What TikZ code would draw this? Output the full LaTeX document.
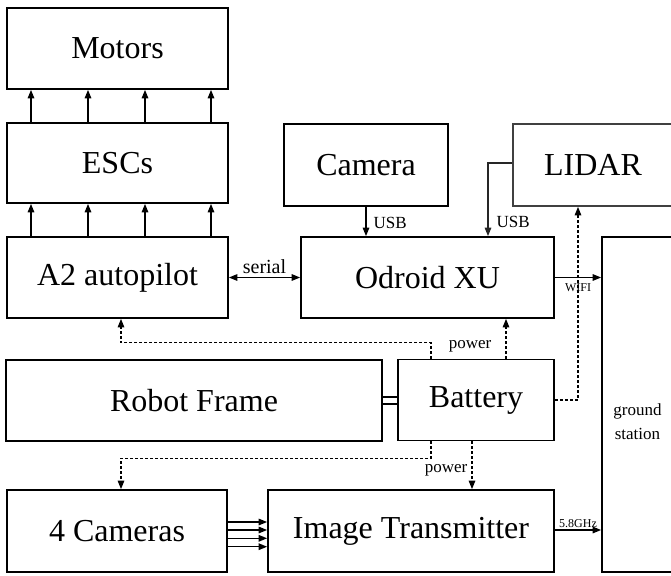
\documentclass[tikz,border=0pt]{standalone}
\usepackage{fontspec}
\setmainfont{Liberation Serif}
\usetikzlibrary{arrows.meta,calc}
\begin{document}
\begin{tikzpicture}[x=1pt,y=-1pt,
  box/.style={draw, line width=1.7pt, inner sep=0pt, font=\fontsize{32}{38}\selectfont},
  arr/.style={line width=1.4pt, -{Triangle[length=8.5pt,width=6.5pt]}},
  darr/.style={line width=1.4pt, {Triangle[length=8.5pt,width=6.5pt]}-{Triangle[length=8.5pt,width=6.5pt]}},
  pw/.style={line width=1.3pt, dash pattern=on 3pt off 2pt, -{Triangle[length=8.5pt,width=6.5pt]}},
  lbl/.style={font=\fontsize{17}{20}\selectfont, inner sep=1pt},
  serl/.style={font=\fontsize{20}{24}\selectfont, inner sep=1pt},
  slbl/.style={font=\fontsize{12}{14}\selectfont, inner sep=1pt}]
\useasboundingbox (0,0) rectangle (671,575);
\clip (0,0) rectangle (671,575);

% nodes
\node[box, minimum width=221pt, minimum height=81pt] (motors) at (117.5,48.5) {Motors};
\node[box, minimum width=221pt, minimum height=80pt] (esc) at (117.5,163) {ESCs};
\node[box, minimum width=221pt, minimum height=81pt] (a2) at (117.5,277.5) {A2 autopilot};
\node[box, minimum width=164pt, minimum height=82pt] (camera) at (366,165) {Camera};
\node[box, draw=black!75, minimum width=160pt, minimum height=82pt] (lidar) at (593,165) {LIDAR};
\node[box, minimum width=253pt, minimum height=81pt] (odroid) at (427.5,277.5) {Odroid XU};
\node[box, minimum width=71pt, minimum height=335pt] (ground) at (637.5,404.5) {};
\node[align=center, inner sep=0pt, font=\fontsize{17}{24}\selectfont] (groundtext) at (637.5,422) {ground\\station};
\node[box, minimum width=376pt, minimum height=81pt] (robot) at (194,400.5) {Robot Frame};
\node[box, minimum width=156pt, minimum height=81pt] (battery) at (476,400) {Battery};
\node[box, minimum width=220pt, minimum height=82pt] (cams) at (117,531) {4 Cameras};
\node[box, minimum width=286pt, minimum height=82pt] (imgtx) at (411,531) {Image Transmitter};

% A2 -> ESCs -> Motors
\foreach \dx in {-86.5,-29.5,27.5,93.5}{
  \draw[arr] ([xshift=\dx pt]a2.north) -- ([xshift=\dx pt]esc.south);
  \draw[arr] ([xshift=\dx pt]esc.north) -- ([xshift=\dx pt]motors.south);
}

% USB links
\draw[arr] (camera.south) -- (camera.south |- odroid.north)
  node[pos=0.55, right=6pt, lbl] {USB};
\draw[arr, draw=black!85] ([yshift=2pt]lidar.west) -| ([xshift=60.5pt]odroid.north)
  node[pos=0.9, right=7pt, lbl] {USB};

% serial
\draw[darr] (a2.east) -- (odroid.west) node[midway, above=2pt, serl] {serial};

% WIFI
\draw[arr] (odroid.east) -- (odroid.east -| ground.west)
  node[midway, below=4pt, slbl] {WIFI};

% Robot frame -- Battery (double line)
\draw[line width=1.3pt] ([yshift=3.5pt]robot.east) -- ([yshift=3.5pt]robot.east -| battery.west);
\draw[line width=1.3pt] ([yshift=-3.5pt]robot.east) -- ([yshift=-3.5pt]robot.east -| battery.west);

% power lines
\draw[pw] ([xshift=-45pt]battery.north) -- ++(0,-16) -| ([xshift=3.5pt]a2.south);
\draw[pw] ([xshift=30pt]battery.north) -- ([xshift=30pt]battery.north |- odroid.south)
  node[pos=0.3, left=13pt, lbl] {power};
\draw[pw] (battery.east) -| ([xshift=-15pt]lidar.south);
\draw[pw] ([xshift=-45pt]battery.south) -- ++(0,17) -| ([xshift=4pt]cams.north);
\draw[pw] ([xshift=-4pt]battery.south) -- ([xshift=-4pt]battery.south |- imgtx.north)
  node[pos=0.6, left=3pt, lbl] {power};

% 4 Cameras -> Image Transmitter
\foreach \dy in {9,1,-7.3,-15.7}{
  \draw[arr] ([yshift=\dy pt]cams.east) -- ([yshift=\dy pt]cams.east -| imgtx.west);
}

% 5.8GHz
\draw[arr] ([yshift=1pt]imgtx.east) -- ([yshift=1pt]imgtx.east -| ground.west)
  node[midway, above=1pt, slbl] {5.8GHz};
\end{tikzpicture}
\end{document}
